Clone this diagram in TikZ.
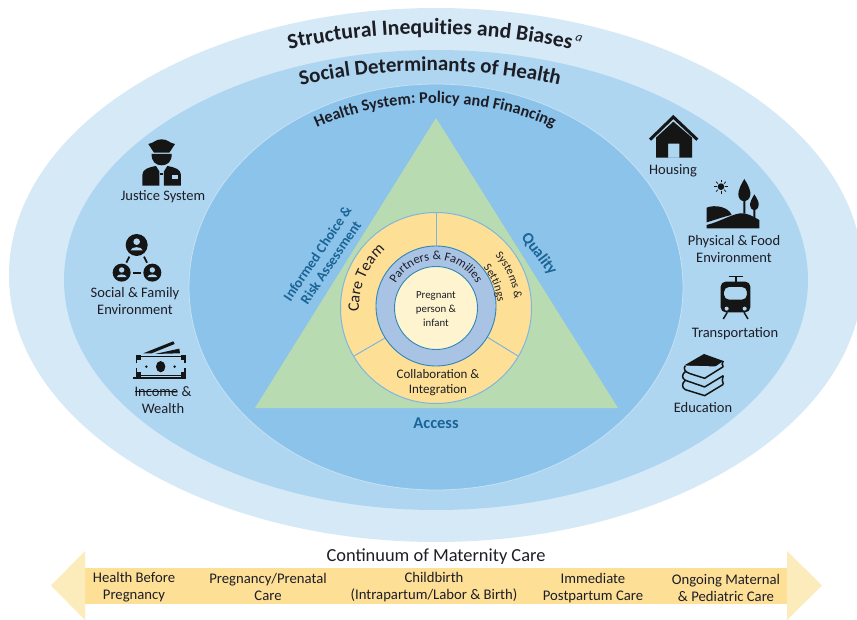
\documentclass[tikz,border=0pt]{standalone}
\usepackage{fontspec}
\setmainfont{Carlito}
\usetikzlibrary{decorations.text}
\definecolor{ringA}{HTML}{D6E9F7}
\definecolor{ringB}{HTML}{AFD6F0}
\definecolor{ringC}{HTML}{8CC3EA}
\definecolor{triG}{HTML}{B9DBB1}
\definecolor{yel}{HTML}{FEDF96}
\definecolor{yelL}{HTML}{FCEBBB}
\definecolor{bring}{HTML}{A9C3E4}
\definecolor{core}{HTML}{FEF4CF}
\definecolor{edgeB}{HTML}{7DB7E0}
\definecolor{edgeC}{HTML}{2F86B8}
\definecolor{ink}{HTML}{1D1D26}
\definecolor{teal}{HTML}{1B6496}
\definecolor{icon}{HTML}{151515}
\tikzset{
  lab/.style={font=\fontsize{14.5}{17}\selectfont,text=ink,inner sep=0pt,align=center},
  tealab/.style={font=\fontsize{14.2}{16}\selectfont\bfseries,text=teal,inner sep=0pt,align=center},
  band/.style={font=\fontsize{14.7}{17}\selectfont,text=ink,inner sep=0pt,align=center},
  ico/.style={fill=icon,draw=none},
  icl/.style={draw=icon,line width=1.5pt},
  divider/.style={draw=edgeB,line width=1pt},
  curved/.style 2 args={decorate,decoration={text along path,text align=center,text={|#1|#2}}}
}
\begin{document}
\begin{tikzpicture}[x=1pt,y=-1pt]
\useasboundingbox (0,0) rectangle (857,620);
\clip (0,0) rectangle (857,620);
% rings
\fill[ringA] (436,275) ellipse [x radius=427,y radius=267];
\fill[ringB] (436,280) ellipse [x radius=372,y radius=230];
\draw[fill=ringC,draw=ringA!60!ringB,line width=.8pt] (436,287) ellipse [x radius=247,y radius=203];
\fill[triG] (436,118) -- (618,408) -- (255,408) -- cycle;
% circles
\coordinate (cc) at (436,308);
\draw[fill=yel,draw=edgeB,line width=1pt] (cc) circle [radius=95.5];
\coordinate (dTa) at (436,213);
\coordinate (dTb) at (436,247);
\coordinate (dLa) at (354,356);
\coordinate (dLb) at (385,338);
\coordinate (dRa) at (518,356);
\coordinate (dRb) at (487,337);
\draw[divider] (dTa) -- (dTb);
\draw[divider] (dLa) -- (dLb);
\draw[divider] (dRa) -- (dRb);
\draw[fill=bring,draw=edgeC,line width=.9pt] (436,306) circle [radius=60];
\draw[fill=core,draw=edgeC,line width=.9pt] (436,308) circle [radius=41.5];
% curved titles
\path[curved={\fontsize{21.7}{22}\selectfont\bfseries\color{ink}}{Structural Inequities and Biases}]
  ([shift={(150:400pt and 236pt)}]430,270) arc[start angle=150,end angle=30,x radius=400pt,y radius=236pt];
\node[inner sep=0pt,text=ink,rotate=-16,font=\fontsize{13}{13}\selectfont\itshape] (supA) at (579,38) {a};
\path[curved={\fontsize{21}{21}\selectfont\bfseries\color{ink}}{Social Determinants of Health}]
  ([shift={(150:372pt and 230pt)}]430,301) arc[start angle=150,end angle=30,x radius=372pt,y radius=230pt];
\path[curved={\fontsize{16.3}{16.3}\selectfont\bfseries\color{ink}}{Health System: Policy and Financing}]
  ([shift={(150:247pt and 203pt)}]435,306) arc[start angle=150,end angle=30,x radius=247pt,y radius=203pt];
% inner curved labels
\path[curved={\fontsize{12.5}{12.5}\selectfont\color{ink}}{Partners {\&} Families}]
  ([shift={(170:46pt)}]436,306) arc[start angle=170,end angle=10,radius=46pt];
\path[curved={\fontsize{16}{16}\selectfont\color{ink}}{Care Team}]
  ([shift={(217:77pt)}]436,308) arc[start angle=217,end angle=97,radius=77pt];
\path[curved={\fontsize{11.5}{11.5}\selectfont\color{ink}}{Systems {\&}}]
  ([shift={(64:79pt)}]436,308) arc[start angle=64,end angle=-16,radius=79pt];
\path[curved={\fontsize{11.5}{11.5}\selectfont\color{ink}}{Settings}]
  ([shift={(63:62pt)}]436,308) arc[start angle=63,end angle=-17,radius=62pt];
\node[lab,font=\fontsize{10.8}{14}\selectfont] (preg) at (436,309) {Pregnant\\person \&\\infant};
\node[lab,font=\fontsize{13}{15}\selectfont] (collab) at (438,383) {Collaboration \&\\Integration};
% triangle labels
\node[tealab,rotate=56] (choice) at (324,258) {Informed Choice \&\\Risk Assessment};
\node[tealab,rotate=-53,font=\fontsize{16}{16}\selectfont\bfseries] (quality) at (539,254) {Quality};
\node[tealab,font=\fontsize{16.5}{17}\selectfont\bfseries] (access) at (436,423) {Access};
% left labels
\node[lab] (justice) at (163,197) {Justice System};
\node[lab] (social) at (135,301.5) {Social \& Family\\Environment};
\node[lab] (income) at (163,400.5) {Income \&\\Wealth};
\coordinate (strA) at (135,391);
\coordinate (strB) at (177,391);
\draw[icon,line width=.7pt] (strA) -- (strB);
% right labels
\node[lab] (housing) at (673,171) {Housing};
\node[lab] (physical) at (734,249.5) {Physical \& Food\\Environment};
\node[lab] (transport) at (735,334) {Transportation};
\node[lab] (education) at (703,408) {Education};
% police icon (zoom coords)
\begin{scope}[shift={(80,130)},x=.3333pt,y=-.3333pt]
  \fill[ico] (205,42) .. controls (225,38) and (225,28) .. (245,28) .. controls (265,28) and (265,38) .. (285,42) .. controls (280,52) and (272,60) .. (268,68) -- (222,68) .. controls (218,60) and (210,52) .. (205,42) -- cycle;
  \fill[ico] (215,72) -- (275,72) .. controls (276,95) and (262,106) .. (245,106) .. controls (228,106) and (214,95) .. (215,72) -- cycle;
  \fill[ico] (187,167) -- (187,135) .. controls (187,118) and (205,112) .. (228,108) -- (238,124) -- (238,167) -- cycle;
  \fill[ico] (303,167) -- (303,135) .. controls (303,118) and (285,112) .. (262,108) -- (252,124) -- (252,167) -- cycle;
  \fill[ico] (240,128) -- (250,128) -- (250,136) -- (240,136) -- cycle;
  \fill[ringB] (277,135) rectangle (295,148);
\end{scope}
% social icon
\begin{scope}[shift={(80,130)},x=.3333pt,y=-.3333pt]
  \foreach \cx/\cy/\r in {170/345/33,125/428/27,217/428/27}{
    \fill[ico] (\cx,\cy) circle [x radius=\r,y radius=\r];
    \fill[ringB] (\cx,{\cy-.3*\r}) circle [x radius=.3*\r,y radius=.3*\r];
    \fill[ringB] ({\cx-.55*\r},{\cy+.5*\r}) .. controls ({\cx-.5*\r},{\cy+.1*\r}) and ({\cx+.5*\r},{\cy+.1*\r}) .. ({\cx+.55*\r},{\cy+.5*\r}) -- cycle;
  }
  \draw[icl,line width=1.8pt] (148,380) -- (139,398);
  \draw[icl,line width=1.8pt] (192,380) -- (201,398);
  \draw[icl,line width=1.8pt] (160,428) -- (182,428);
\end{scope}
% money icon
\begin{scope}[shift={(80,130)},x=.3333pt,y=-.3333pt]
  \draw[icl,line width=1.4pt] (170,700) -- (170,680) -- (315,680) -- (315,700);
  \draw[icl,line width=1.4pt] (170,715) -- (170,737) -- (315,737) -- (315,715);
  \fill[ico] (168,676) rectangle (182,690);
  \fill[ico] (303,676) rectangle (317,690);
  \fill[ico] (168,725) rectangle (182,740);
  \fill[ico] (303,725) rectangle (317,740);
  \fill[ico] (160,742) rectangle (318,747);
  \fill[ico] (242,710) circle [x radius=14,y radius=17];
  \fill[ico] (199,710) circle [x radius=4,y radius=4];
  \fill[ico] (284,710) circle [x radius=4,y radius=4];
  \fill[ico] (190,670) -- (280,634) -- (284,642) -- (215,670) -- cycle;
  \fill[ico] (225,672) -- (298,656) -- (300,670) -- cycle;
\end{scope}
% house icon
\begin{scope}[shift={(640,105)},x=.3333pt,y=-.3333pt]
  \draw[icl,line width=3pt,line join=miter] (30,104) -- (100,36) -- (172,104);
  \fill[ico,even odd rule] (48,98) -- (100,50) -- (156,98) -- (156,158) -- (48,158) -- cycle
     (84,116) rectangle (118,158);
\end{scope}
% landscape icon
\begin{scope}[shift={(640,105)},x=.3333pt,y=-.3333pt]
  \fill[ico] (243,245) circle [x radius=10,y radius=10];
  \foreach \a in {0,45,...,315}{
    \draw[icl,line width=.7pt] ({243+13*cos(\a)},{245+13*sin(\a)}) -- ({243+21*cos(\a)},{245+21*sin(\a)});
  }
  \fill[ico] (313,222) .. controls (325,240) and (333,258) .. (331,270) .. controls (329,283) and (320,288) .. (316,288) -- (316,325) -- (310,325) -- (310,288) .. controls (303,288) and (295,280) .. (295,268) .. controls (295,255) and (303,238) .. (313,222) -- cycle;
  \fill[ico] (343,268) .. controls (352,282) and (357,292) .. (356,300) .. controls (355,310) and (350,314) .. (346,315) -- (346,340) -- (340,340) -- (340,315) .. controls (335,314) and (330,308) .. (330,300) .. controls (330,292) and (335,282) .. (343,268) -- cycle;
  \fill[ico] (200,308) .. controls (225,298) and (265,305) .. (275,330) .. controls (250,335) and (225,345) .. (200,352) -- cycle;
  \fill[ico] (200,360) .. controls (240,350) and (270,330) .. (300,325) .. controls (320,322) and (340,335) .. (358,345) -- (358,370) -- (200,370) -- cycle;
\end{scope}
% tram icon
\begin{scope}[shift={(640,105)},x=.3333pt,y=-.3333pt]
  \draw[icl,line width=1.6pt] (266,514) -- (310,514);
  \draw[icl,line width=1.4pt] (288,514) -- (288,530);
  \fill[ico,even odd rule,rounded corners=5pt] (242,530) rectangle (331,622)
     (252,546) rectangle (321,584);
  \fill[ringB] (260,611) circle [x radius=6,y radius=6];
  \fill[ringB] (314,611) circle [x radius=6,y radius=6];
  \draw[icl,line width=1.5pt] (262,622) -- (250,642);
  \draw[icl,line width=1.5pt] (312,622) -- (324,642);
\end{scope}
% books icon
\begin{scope}[shift={(640,105)},x=.3333pt,y=-.3333pt]
  \fill[ico] (135,780) -- (192,747) -- (250,768) -- (192,808) -- cycle;
  \draw[icl,line width=1.5pt,fill=ringB,line join=round] (250,785) -- (194,820) -- (150,806) .. controls (132,800) and (130,790) .. (136,782);
  \draw[icl,line width=1.5pt,line join=round] (250,768) .. controls (245,775) and (245,780) .. (250,785);
  \draw[icl,line width=1.5pt,line join=round] (136,800) .. controls (125,808) and (125,820) .. (136,826) -- (194,846) -- (250,812);
  \draw[icl,line width=1.5pt,line join=round] (136,826) .. controls (125,835) and (125,848) .. (136,854) -- (194,872) -- (250,838);
  \draw[icl,line width=1.5pt] (250,812) .. controls (246,820) and (246,830) .. (250,838);
\end{scope}
% continuum arrow
\fill[yelL] (85,551) -- (51,585.5) -- (85,620) -- cycle;
\fill[yelL] (787,551) -- (822,585.5) -- (787,620) -- cycle;
\fill[yel] (85,568) rectangle (787,604);
\node[lab,font=\fontsize{18.4}{19}\selectfont] (cont) at (436,557) {Continuum of Maternity Care};
\node[band] (b1) at (134,587) {Health Before\\Pregnancy};
\node[band] (b2) at (268,587) {Pregnancy/Prenatal\\Care};
\node[band] (b3) at (434,587) {Childbirth\\(Intrapartum/Labor \& Birth)};
\node[band] (b4) at (593,588) {Immediate\\Postpartum Care};
\node[band] (b5) at (726,588) {Ongoing Maternal\\\& Pediatric Care};
\end{tikzpicture}
\end{document}
